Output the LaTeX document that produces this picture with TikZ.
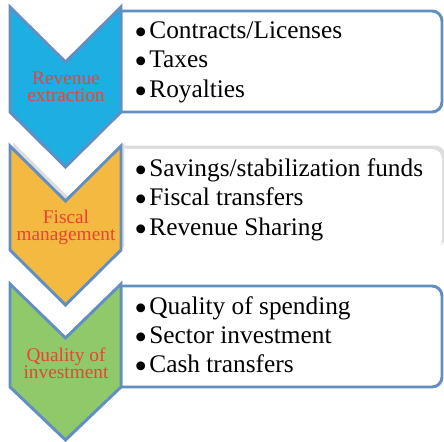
\documentclass[tikz,border=0pt]{standalone}
\usepackage{fontspec}
\usepackage{graphicx}
\setmainfont{Liberation Serif}
\usetikzlibrary{shadows}

\definecolor{chevblue}{RGB}{29,175,226}
\definecolor{chevorange}{RGB}{243,185,65}
\definecolor{chevgreen}{RGB}{144,201,106}
\definecolor{edgeblue}{RGB}{98,143,194}
\definecolor{labelred}{RGB}{234,67,53}

\newcommand{\listdot}{\raisebox{-0.22em}{\scalebox{1.45}{•}}\hspace{0.08em}}

\tikzset{every picture/.style={line width=0.75pt}}
\tikzset{
  chev/.style={draw=edgeblue, line width=2.2pt, line join=miter},
  listbox/.style={draw=edgeblue, line width=2.2pt, fill=white},
  softshadow/.style={drop shadow={opacity=0.22, fill=black!60, shadow xshift=2.5pt, shadow yshift=2.5pt}},
  chevlabel/.style={text=labelred, anchor=base, inner sep=0pt, font=\fontsize{14.5}{16}\selectfont},
  listitem/.style={anchor=base west, inner sep=0pt, font=\fontsize{19}{22}\selectfont}
}

\begin{document}
\begin{tikzpicture}[x=0.75pt,y=0.75pt,yscale=-1,xscale=1]
\useasboundingbox (0,0) rectangle (444,442);

%Shape: Rounded Box [top]
\draw [listbox] (121,11) -- (432,11) arc (-90:0:10) -- (442,102) arc (0:90:10) -- (121,112) -- cycle ;
%Shape: Rounded Box [middle, no border]
\fill [white, softshadow] (121,149) -- (432,149) arc (-90:0:10) -- (442,240) arc (0:90:10) -- (121,250) -- cycle ;
%Shape: Rounded Box [bottom]
\draw [listbox] (121,286) -- (432,286) arc (-90:0:10) -- (442,377) arc (0:90:10) -- (121,387) -- cycle ;

%Shape: Chevron [top]
\draw [chev, fill=chevblue] (10,7) -- (65.5,62) -- (121,7) -- (121,112) -- (65.5,167) -- (10,112) -- cycle ;
%Shape: Chevron [middle]
\draw [chev, fill=chevorange, softshadow] (10,146) -- (65.5,201) -- (121,146) -- (121,250) -- (65.5,305) -- (10,250) -- cycle ;
%Shape: Chevron [bottom]
\draw [chev, fill=chevgreen] (10,284) -- (65.5,338) -- (121,284) -- (121,387) -- (65.5,440) -- (10,387) -- cycle ;

% Text Node
\node [chevlabel] (revenue) at (66,85) {Revenue};
\node [chevlabel] (extraction) at (66,102) {extraction};
% Text Node
\node [chevlabel] (fiscal) at (66,224) {Fiscal};
\node [chevlabel] (management) at (66,241) {management};
% Text Node
\node [chevlabel] (qualityof) at (66,362) {Quality of};
\node [chevlabel] (investment) at (66,379) {investment};

% Text Node
\node [listitem] (contracts) at (134,39) {\listdot Contracts/Licenses};
\node [listitem] (taxes) at (134,68) {\listdot Taxes};
\node [listitem] (royalties) at (134,98) {\listdot Royalties};
% Text Node
\node [listitem] (savings) at (134,177) {\listdot Savings/stabilization funds};
\node [listitem] (transfers) at (134,206) {\listdot Fiscal transfers};
\node [listitem] (sharing) at (134,236) {\listdot Revenue Sharing};
% Text Node
\node [listitem] (spending) at (134,315) {\listdot Quality of spending};
\node [listitem] (sector) at (134,344) {\listdot Sector investment};
\node [listitem] (cash) at (134,373) {\listdot Cash transfers};

\end{tikzpicture}
\end{document}
